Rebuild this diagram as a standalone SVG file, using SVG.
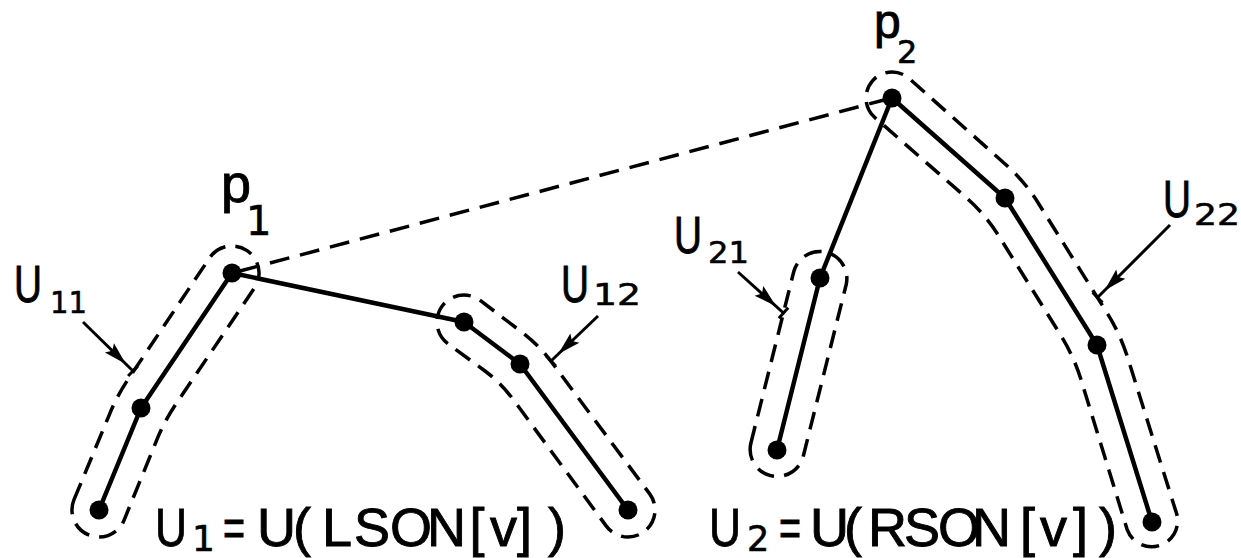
<svg xmlns="http://www.w3.org/2000/svg" width="1241" height="558" viewBox="0 0 1241 558">
<style>
.bg{fill:#fff}
.hull{fill:none;stroke:#000;stroke-width:3.5;stroke-dasharray:18 10;stroke-linejoin:round}
.edge{fill:none;stroke:#000;stroke-width:4.5;stroke-linejoin:round;stroke-linecap:round}
.bridge{fill:none;stroke:#000;stroke-width:3.5;stroke-dasharray:20 11}
.ptr{fill:none;stroke:#000;stroke-width:3;marker-end:url(#ah)}
.dot{fill:#000}
.lbl{font-family:"Liberation Sans",Arial,sans-serif;fill:#000;stroke:#000;stroke-width:0.9}
.dig{font-family:"DejaVu Sans","Liberation Sans",sans-serif;fill:#000;stroke:#000;stroke-width:0.6}
</style>
<defs>
<marker id="ah" markerUnits="userSpaceOnUse" orient="auto" refX="0" refY="0" markerWidth="40" markerHeight="20" viewBox="-36 -10 40 20" overflow="visible">
<path d="M -33,-6.5 L -10,0 L -33,6.5 L -29,0 Z" fill="#000"/>
<path d="M 0,-7 L 0,7" stroke="#000" stroke-width="3" fill="none"/>
</marker>
</defs>
<rect class="bg" x="0" y="0" width="1241" height="558"/>

<g id="connectors">
<polyline class="edge" points="99,510 141,408 232,273"/>
<polyline class="edge" points="232,273 464,322"/>
<polyline class="edge" points="464,322 520,364 628,510"/>
<polyline class="edge" points="777,450 820,278"/>
<polyline class="edge" points="820,278 892,98"/>
<polyline class="edge" points="892,98 1005,198 1097,345 1152,522"/>
<line class="bridge" x1="240" y1="271" x2="884" y2="100"/>
<line class="ptr" x1="83" y1="322" x2="133" y2="371"/>
<line class="ptr" x1="598" y1="316" x2="551" y2="361"/>
<line class="ptr" x1="738" y1="272" x2="783.5" y2="313"/>
<line class="ptr" x1="1170" y1="225" x2="1097.5" y2="297.5"/>
</g>

<g id="U11">
<path class="hull" d="M 74,499.7 L 109.7,413.8 Q 117.3,395.3 128.5,378.7 L 209.6,257.9 A 27 27 0 0 1 254.4,288.1 L 175.9,404.1 Q 164.7,420.7 157.1,439.2 L 124,520.3 A 27 27 0 0 1 74,499.7 Z"/>
<circle class="dot" cx="99" cy="510" r="9.5"/>
<circle class="dot" cx="141" cy="408" r="9.5"/>
<text class="lbl" x="14" y="302" font-size="52" textLength="28" lengthAdjust="spacingAndGlyphs">U</text>
<text class="dig" x="50" y="313" font-size="31" textLength="37" lengthAdjust="spacingAndGlyphs">11</text>
</g>

<g id="p1">
<circle class="dot" cx="232" cy="273" r="9.5"/>
<text class="lbl" x="221" y="202" font-size="54">p</text>
<text class="dig" x="246" y="235" font-size="40">1</text>
</g>

<g id="U12">
<path class="hull" d="M 447.8,343.6 A 27 27 0 0 1 480.2,300.4 L 519,330 Q 539,345 550.9,361.1 L 649.7,493.9 A 27 27 0 0 1 606.3,526.1 L 512.9,399.1 Q 501,383 485,371 Z"/>
<circle class="dot" cx="464" cy="322" r="9.5"/>
<circle class="dot" cx="520" cy="364" r="9.5"/>
<circle class="dot" cx="628" cy="510" r="9.5"/>
<text class="lbl" x="561" y="302" font-size="52" textLength="28" lengthAdjust="spacingAndGlyphs">U</text>
<text class="dig" x="593" y="305" font-size="31" textLength="48" lengthAdjust="spacingAndGlyphs">12</text>
</g>

<g id="U21">
<path class="hull" d="M 750.8,443.5 L 793.8,271.5 A 27 27 0 0 1 846.2,284.5 L 803.2,456.5 A 27 27 0 0 1 750.8,443.5 Z"/>
<circle class="dot" cx="777" cy="450" r="9.5"/>
<circle class="dot" cx="820" cy="278" r="9.5"/>
<text class="lbl" x="674" y="253" font-size="52" textLength="28" lengthAdjust="spacingAndGlyphs">U</text>
<text class="dig" x="708" y="263" font-size="31" textLength="41" lengthAdjust="spacingAndGlyphs">21</text>
</g>

<g id="U22">
<path class="hull" d="M 874.8,117.5 A 26 26 0 0 1 909.2,78.5 L 1005.9,164.7 Q 1024.6,181.3 1037.9,202.5 L 1107.1,313 Q 1120.4,334.2 1127.8,358.1 L 1176.8,514.3 A 26 26 0 0 1 1127.2,529.7 L 1081,379.6 Q 1073.6,355.7 1060.3,334.5 L 998.7,235.8 Q 985.4,214.6 966.7,198 Z"/>
<circle class="dot" cx="1005" cy="198" r="9.5"/>
<circle class="dot" cx="1097" cy="345" r="9.5"/>
<circle class="dot" cx="1152" cy="522" r="9.5"/>
<text class="lbl" x="1163" y="217" font-size="52" textLength="28" lengthAdjust="spacingAndGlyphs">U</text>
<text class="dig" x="1194" y="225" font-size="31" textLength="46" lengthAdjust="spacingAndGlyphs">22</text>
</g>

<g id="p2">
<circle class="dot" cx="892" cy="98" r="9.5"/>
<text class="lbl" x="874" y="38" font-size="48">p</text>
<text class="dig" x="897" y="63" font-size="32">2</text>
</g>

<g id="U1-caption">
<text class="lbl" x="155" y="546" font-size="54" textLength="32" lengthAdjust="spacingAndGlyphs">U</text>
<text class="dig" x="192" y="551" font-size="36">1</text>
<text class="lbl" x="223" y="546" font-size="54" textLength="22" lengthAdjust="spacingAndGlyphs">=</text>
<text class="lbl" y="546" font-size="54" x="257 293 322 354 390 427 469.5 490 517 548">U(LSON[v])</text>
</g>

<g id="U2-caption">
<text class="lbl" x="709" y="546" font-size="54" textLength="32" lengthAdjust="spacingAndGlyphs">U</text>
<text class="dig" x="747" y="551" font-size="35">2</text>
<text class="lbl" x="779" y="546" font-size="54" textLength="22" lengthAdjust="spacingAndGlyphs">=</text>
<text class="lbl" y="546" font-size="54" x="810 844 868 904 938 972 1020 1040 1073 1099">U(RSON[v])</text>
</g>
</svg>
